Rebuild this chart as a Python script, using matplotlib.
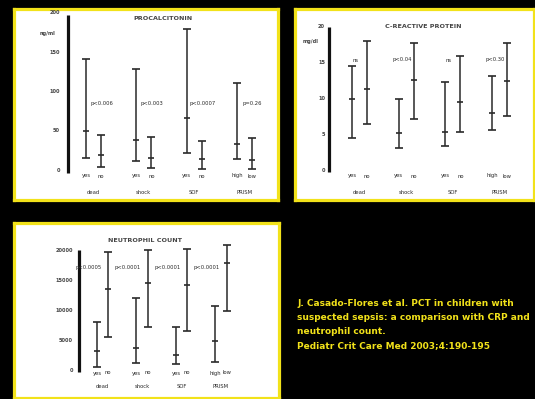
import matplotlib
matplotlib.use("Agg")
import matplotlib.pyplot as plt
import numpy as np

W, H = 535, 399
YELLOW = "#f2e21a"
INK = "#2a2a2a"
GREY = "#444444"

groups = ["dead", "shock", "SOF", "PRISM"]
ticks = ["yes", "no", "yes", "no", "yes", "no", "high", "low"]

# procalcitonin, ng/ml
pct_top = [141, 45, 129, 42, 180, 37, 111, 41]
pct_mean = [50, 19, 38, 15, 66, 14, 33, 13]
pct_low = [15, 4, 11, 3, 22, 1, 14, 1]
pct_p = ["p<0.006", "p<0.003", "p<0.0007", "p=0.26"]
pct_yticks = [0, 50, 100, 150, 200]

# C-reactive protein, mg/dl
crp_top = [14.5, 17.9, 9.9, 17.7, 12.3, 15.9, 13.1, 17.7]
crp_mean = [9.9, 11.3, 5.2, 12.6, 5.4, 9.5, 8.0, 12.4]
crp_low = [4.6, 6.5, 3.2, 7.2, 3.4, 5.4, 5.7, 7.6]
crp_p = ["ns", "p<0.04", "ns", "p<0.30"]
crp_yticks = [0, 5, 10, 15, 20]

# neutrophil count
neu_top = [8170, 19830, 12170, 20170, 7330, 20330, 10830, 21000]
neu_mean = [3330, 13670, 3830, 14670, 2670, 14330, 5000, 18000]
neu_low = [670, 5670, 1330, 7330, 1170, 6670, 1500, 10000]
neu_p = ["p<0.0005", "p<0.0001", "p<0.0001", "p<0.0001"]
neu_yticks = [0, 5000, 10000, 15000, 20000]

fig = plt.figure(figsize=(W / 100, H / 100), dpi=100, facecolor="black")


def make_panel(box, gx0, gdx, py0, ppu):
    """Panel axes whose data coords are calibrated to pixel positions."""
    x0, y0, x1, y1 = box
    ax = fig.add_axes([x0 / W, 1 - y1 / H, (x1 - x0) / W, (y1 - y0) / H])
    ax.set_xlim((x0 - gx0) / gdx, (x1 - gx0) / gdx)
    ax.set_ylim((py0 - y1) / ppu, (py0 - y0) / ppu)
    ax.set_facecolor("white")
    ax.set_xticks([]); ax.set_yticks([])
    for s in ax.spines.values():
        s.set_color(YELLOW); s.set_linewidth(2.3)
    px = lambda x: (x - gx0) / gdx
    py = lambda y: (py0 - y) / ppu
    return ax, px, py


def draw(ax, px, py, off, top, mean, low, yticks, axis_x, axis_span, lab_x,
         unit, unit_xy, title, title_xy, tick_y, group_y, pvals, p_dx, p_y, p_ha):
    xs = []
    for g in range(len(groups)):
        xs += [g - off, g + off]
    top, mean, low = map(np.array, (top, mean, low))
    ax.errorbar(xs, mean, yerr=[mean - low, top - mean], fmt="_", ms=5, mew=1.2,
                color=INK, ecolor=INK, elinewidth=1.1, capsize=2.6, capthick=1.1,
                clip_on=False)
    ax.plot([px(axis_x)] * 2, [py(axis_span[1]), py(axis_span[0])], color="#111111",
            lw=2.3, solid_capstyle="butt")
    for v in yticks:
        ax.text(px(lab_x), v, str(v), ha="right", va="center", fontsize=3.6,
                color=GREY, fontweight="bold")
    ax.text(px(unit_xy[0]), py(unit_xy[1]), unit, ha="right", va="center",
            fontsize=3.6, color=GREY, fontweight="bold")
    ax.text(px(title_xy[0]), py(title_xy[1]), title, ha="center", va="center",
            fontsize=4.6, color=GREY, fontweight="bold")
    for x, t in zip(xs, ticks):
        ax.text(x, py(tick_y), t, ha="center", va="center", fontsize=3.8, color=INK)
    for g, name in enumerate(groups):
        ax.text(g, py(group_y), name, ha="center", va="center", fontsize=3.8, color=INK)
        ax.text(g + p_dx, py(p_y), pvals[g], ha=p_ha, va="center", fontsize=3.8, color=INK)


ax1, px1, py1 = make_panel((13.5, 9, 277.5, 199.5), 93.5, 50.3, 170, 0.785)
draw(ax1, px1, py1, 0.15, pct_top, pct_mean, pct_low, pct_yticks, 68, (15, 173), 60,
     "ng/ml", (56, 33), "PROCALCITONIN", (163, 19), 176, 192, pct_p, 0.16, 104, "center")

ax2, px2, py2 = make_panel((295, 9, 533.5, 200), 359.5, 46.7, 171, 7.25)
draw(ax2, px2, py2, 0.16, crp_top, crp_mean, crp_low, crp_yticks, 329, (27, 172), 325,
     "mg/dl", (319, 42), "C-REACTIVE PROTEIN", (423, 26), 176, 192, crp_p, -0.09, 60, "center")

ax3, px3, py3 = make_panel((13.5, 223, 278.5, 397.5), 102.5, 39.5, 371, 0.006)
draw(ax3, px3, py3, 0.14, neu_top, neu_mean, neu_low, neu_yticks, 79, (250, 372), 73,
     "", (73, 250), "NEUTROPHIL COUNT", (145, 240), 373, 386, neu_p, -0.02, 268, "right")

caption = ["J. Casado-Flores et al. PCT in children with",
           "suspected sepsis: a comparison with CRP and",
           "neutrophil count.",
           "Pediatr Crit Care Med 2003;4:190-195"]
for i, line in enumerate(caption):
    fig.text(297 / W, 1 - (304 + 13.8 * i) / H, line, color=YELLOW, fontsize=6.5,
             fontweight="bold", va="center", ha="left")

fig.savefig("out.png", dpi=100, facecolor="black")
